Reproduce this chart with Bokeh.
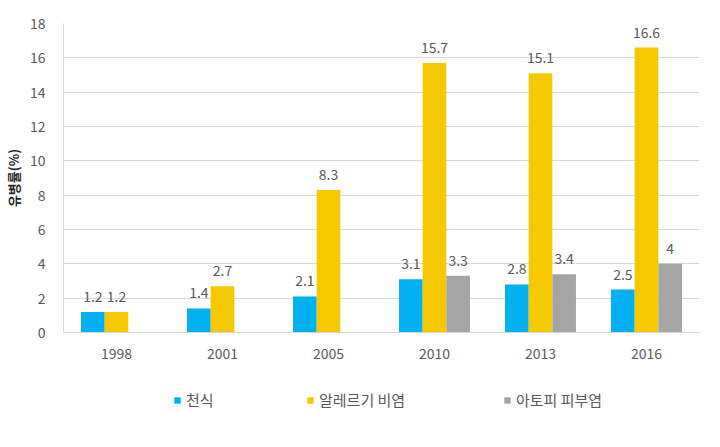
from bokeh.plotting import figure
from bokeh.layouts import column
from bokeh.models import ColumnDataSource, FactorRange, Legend, LegendItem, LabelSet, FixedTicker
from bokeh.core.properties import value
from bokeh.transform import dodge
from bokeh.embed import file_html
from bokeh.resources import INLINE

years = ["1998", "2001", "2005", "2010", "2013", "2016"]
asthma = [1.2, 1.4, 2.1, 3.1, 2.8, 2.5]
rhinitis = [1.2, 2.7, 8.3, 15.7, 15.1, 16.6]
atopic = [None, None, None, 3.3, 3.4, 4]
series_names = ["천식", "알레르기 비염", "아토피 피부염"]
y_ticks = [0, 2, 4, 6, 8, 10, 12, 14, 16, 18]

colors = ["#00B0F0", "#F5C800", "#A5A5A5"]
FONT = "Noto Sans CJK KR"
LABEL_COLOR = "#595959"

def fmt(v):
    if v is None:
        return ""
    return ("%g" % v)

def src(vals):
    return ColumnDataSource(dict(
        x=years,
        top=[float("nan") if v is None else v for v in vals],
        ly=[float("nan") if v is None else v for v in vals],
        txt=[fmt(v) for v in vals],
    ))

LEFT, RIGHT = 54, 5

p = figure(x_range=FactorRange(*years), y_range=(0, 18),
           width=704, height=372, output_backend="svg", toolbar_location=None,
           min_border_left=LEFT, min_border_right=RIGHT, min_border_top=23, min_border_bottom=40)
p.outline_line_color = None
p.background_fill_color = "white"

w = 0.223
offs = [-w, 0, w]
for vals, c, o in zip([asthma, rhinitis, atopic], colors, offs):
    s = src(vals)
    p.vbar(x=dodge("x", o, range=p.x_range), top="top", width=w, source=s,
           fill_color=c, line_color=None)
    lab = LabelSet(x=dodge("x", o, range=p.x_range), y="ly", text="txt", source=s,
                   text_align="center", text_baseline="bottom", y_offset=10,
                   text_font=value(FONT), text_font_size="14px", text_color=LABEL_COLOR)
    p.add_layout(lab)

p.yaxis.ticker = FixedTicker(ticks=y_ticks)
p.yaxis.axis_label = "유병률(%)"
p.yaxis.axis_label_text_font = FONT
p.yaxis.axis_label_text_font_style = "bold"
p.yaxis.axis_label_text_font_size = "13px"
p.yaxis.axis_label_text_color = "#262626"
p.yaxis.axis_label_standoff = 4

for ax in (p.xaxis, p.yaxis):
    ax.major_label_text_font = FONT
    ax.major_label_text_font_size = "14px"
    ax.major_label_text_color = LABEL_COLOR
    ax.major_tick_line_color = None
    ax.minor_tick_line_color = None
    ax.axis_line_color = "#D9D9D9"
p.yaxis.major_label_standoff = 12
p.xaxis.major_label_standoff = 9

p.xgrid.grid_line_color = None
p.ygrid.grid_line_color = "#D9D9D9"
p.x_range.range_padding = 0
p.x_range.group_padding = 0

# legend strip (frame aligned with the main plot's frame)
lg = figure(width=704, height=75, x_range=(0, 1), y_range=(0, 1),
            x_axis_type=None, y_axis_type=None,
            output_backend="svg", toolbar_location=None,
            min_border_left=LEFT, min_border_right=RIGHT, min_border_top=0, min_border_bottom=0)
lg.grid.grid_line_color = None
lg.outline_line_color = None
legend_x = [110, 243, 440]
for name, c, lx in zip(series_names, colors, legend_x):
    # zero-size proxy renderer: only supplies the legend swatch colour
    r = lg.vbar(x=[0.5], top=[0], bottom=[0], width=0, fill_color=c, line_color=None)
    leg = Legend(items=[LegendItem(label=name, renderers=[r])],
                 location=(lx, 37), orientation="horizontal",
                 glyph_width=8, glyph_height=8, label_standoff=5,
                 label_text_font=FONT, label_text_font_size="15px", label_text_color=LABEL_COLOR,
                 border_line_color=None, background_fill_alpha=0, margin=0, padding=0)
    lg.add_layout(leg, "center")

layout = column(p, lg, spacing=0)
open("out.html", "w").write(file_html(layout, INLINE))
